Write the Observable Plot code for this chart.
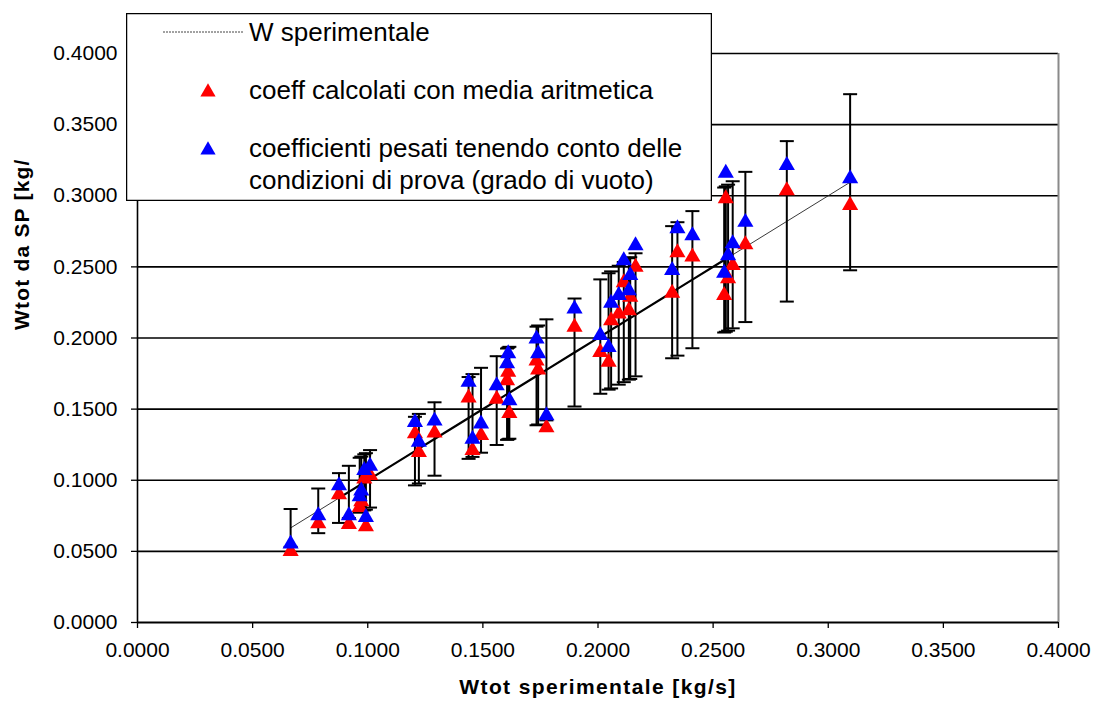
<!DOCTYPE html>
<html>
<head>
<meta charset="utf-8">
<script src="https://cdn.jsdelivr.net/npm/d3@7"></script>
<script src="https://cdn.jsdelivr.net/npm/@observablehq/plot@0.6"></script>
<style>
  body { margin: 0; background: #fff; font-family: "Liberation Sans", Arial, sans-serif; }
  #wrap { position: relative; width: 1097px; height: 708px; }
  #legend { position: absolute; left: 126px; top: 13px; }
</style>
</head>
<body>
<div id="wrap">
  <div id="chart"></div>
  <svg id="legend" width="586" height="188"></svg>
</div>
<script>
// ---- data ----
const wSperimentale = [0.0665, 0.0785, 0.0875, 0.0918, 0.0965, 0.0972, 0.0985, 0.0992, 0.1010,
  0.1205, 0.1222, 0.1290, 0.1438, 0.1455, 0.1492, 0.1560, 0.1605, 0.1610, 0.1615,
  0.1733, 0.1740, 0.1776, 0.1898, 0.2010, 0.2046, 0.2057, 0.2090, 0.2112, 0.2134,
  0.2140, 0.2163, 0.2322, 0.2345, 0.2410, 0.2548, 0.2555, 0.2565, 0.2585, 0.2640,
  0.2820, 0.3095];
const coeffMedia = [0.0500, 0.0695, 0.0900, 0.0690, 0.0810, 0.0850, 0.1010, 0.0675, 0.1035,
  0.1328, 0.1197, 0.1333, 0.1580, 0.1210, 0.1315, 0.1570, 0.1700, 0.1760, 0.1470,
  0.1840, 0.1776, 0.1370, 0.2076, 0.1900, 0.1830, 0.2123, 0.2170, 0.2390, 0.2193,
  0.2287, 0.2498, 0.2315, 0.2600, 0.2570, 0.2300, 0.2980, 0.2418, 0.2510, 0.2657,
  0.3037, 0.2932];
const coeffPesati = [0.0553, 0.0752, 0.0963, 0.0752, 0.0885, 0.0925, 0.1070, 0.0740, 0.1100,
  0.1408, 0.1268, 0.1418, 0.1690, 0.1290, 0.1397, 0.1666, 0.1820, 0.1890, 0.1560,
  0.1994, 0.1890, 0.1455, 0.2205, 0.2018, 0.1935, 0.2245, 0.2300, 0.2545, 0.2334,
  0.2440, 0.2650, 0.2475, 0.2770, 0.2720, 0.2456, 0.3160, 0.2580, 0.2664, 0.2814,
  0.3213, 0.3120];
const errRel = 0.20; // percentage error bars (±20%)
const axisTicks = [0, 0.05, 0.10, 0.15, 0.20, 0.25, 0.30, 0.35, 0.40];
const labels = {
  x: "Wtot sperimentale [kg/s]",
  y: "Wtot da SP [kg/",
  line: "W sperimentale",
  media: "coeff calcolati con media aritmetica",
  pesati: ["coefficienti pesati tenendo conto delle", "condizioni di prova (grado di vuoto)"]
};
const thickRange = [0.087, 0.2550];

const data = wSperimentale.map((w, i) => ({
  w, media: coeffMedia[i], pesati: coeffPesati[i],
  lo: w * (1 - errRel), hi: w * (1 + errRel)
}));
const sorted = data.slice().sort((a, b) => a.w - b.w);
const thick = sorted.filter(d => d.w >= thickRange[0] && d.w <= thickRange[1]);

const capSymbol = {
  draw(ctx, size) {
    const h = Math.sqrt(size / Math.PI);
    ctx.moveTo(-h, 0);
    ctx.lineTo(h, 0);
  }
};
const fmt = d3.format(".4f");

const chart = Plot.plot({
  width: 1097, height: 708,
  marginLeft: 137, marginRight: 39, marginTop: 53, marginBottom: 86,
  style: { fontFamily: "'Liberation Sans', Arial, sans-serif", fontSize: "21px", color: "#000", background: "#fff", overflow: "visible" },
  x: { domain: [0, 0.4] },
  y: { domain: [0, 0.4] },
  marks: [
    Plot.gridY(axisTicks.filter(v => v > 0), { stroke: "#000", strokeOpacity: 1, strokeWidth: 1.6 }),
    Plot.ruleX([0.4], { stroke: "#8a8a8a", strokeWidth: 2 }),
    Plot.axisX({ ticks: axisTicks, tickFormat: fmt, tickSize: 6, tickPadding: 14, label: null, stroke: "#000", strokeWidth: 1.3 }),
    Plot.axisY({ ticks: axisTicks, tickFormat: fmt, tickSize: 6, tickPadding: 14, label: null, stroke: "#000", strokeWidth: 1.3 }),
    Plot.ruleY([0], { stroke: "#000", strokeWidth: 2 }),
    Plot.ruleX([0], { stroke: "#000", strokeWidth: 1.6 }),
    Plot.line(sorted, { x: "w", y: "w", stroke: "#222", strokeWidth: 0.9 }),
    Plot.line(thick, { x: "w", y: "w", stroke: "#000", strokeWidth: 2.2 }),
    Plot.ruleX(data, { x: "w", y1: "lo", y2: "hi", stroke: "#000", strokeWidth: 2 }),
    Plot.dot(data, { x: "w", y: "lo", symbol: capSymbol, r: 7, fill: "none", stroke: "#000", strokeWidth: 2 }),
    Plot.dot(data, { x: "w", y: "hi", symbol: capSymbol, r: 7, fill: "none", stroke: "#000", strokeWidth: 2 }),
    Plot.dot(data, { x: "w", y: "media", symbol: "triangle", r: 6, fill: "#ff0000", stroke: "none" }),
    Plot.dot(data, { x: "w", y: "pesati", symbol: "triangle", r: 6, fill: "#0000ff", stroke: "none" }),
    Plot.text([labels.x], { frameAnchor: "bottom", dy: 71, fontWeight: "bold", fontSize: 21, fill: "#000",
      render(index, scales, values, dims, ctx, next) { const g = next(index, scales, values, dims, ctx); g.setAttribute("letter-spacing", "1.4"); return g; } }),
    Plot.text([labels.y], { frameAnchor: "left", dx: -115, dy: -8, rotate: -90, fontWeight: "bold", fontSize: 21, fill: "#000",
      render(index, scales, values, dims, ctx, next) { const g = next(index, scales, values, dims, ctx); g.setAttribute("letter-spacing", "1.2"); return g; } })
  ]
});
document.getElementById("chart").appendChild(chart);

// ---- legend ----
const lg = d3.select("#legend");
lg.append("rect").attr("x", 0.5).attr("y", 0.5).attr("width", 585).attr("height", 187)
  .attr("fill", "#fff").attr("stroke", "#000").attr("stroke-width", 1.5);
lg.append("line").attr("x1", 37).attr("x2", 117).attr("y1", 19).attr("y2", 19)
  .attr("stroke", "#444").attr("stroke-width", 1).attr("stroke-dasharray", "2,1");
const tri = d3.symbol(d3.symbolTriangle, 100)();
lg.append("path").attr("d", tri).attr("transform", "translate(82,79)").attr("fill", "#ff0000");
lg.append("path").attr("d", tri).attr("transform", "translate(82,137)").attr("fill", "#0000ff");
const txt = [[labels.line, 19], [labels.media, 77], [labels.pesati[0], 135], [labels.pesati[1], 167]];
txt.forEach(([t, cy]) => {
  lg.append("text").attr("x", 123).attr("y", cy).attr("dy", "0.35em")
    .attr("font-family", "'Liberation Sans', Arial, sans-serif").attr("font-size", 26)
    .attr("fill", "#000").text(t);
});
</script>
</body>
</html>
